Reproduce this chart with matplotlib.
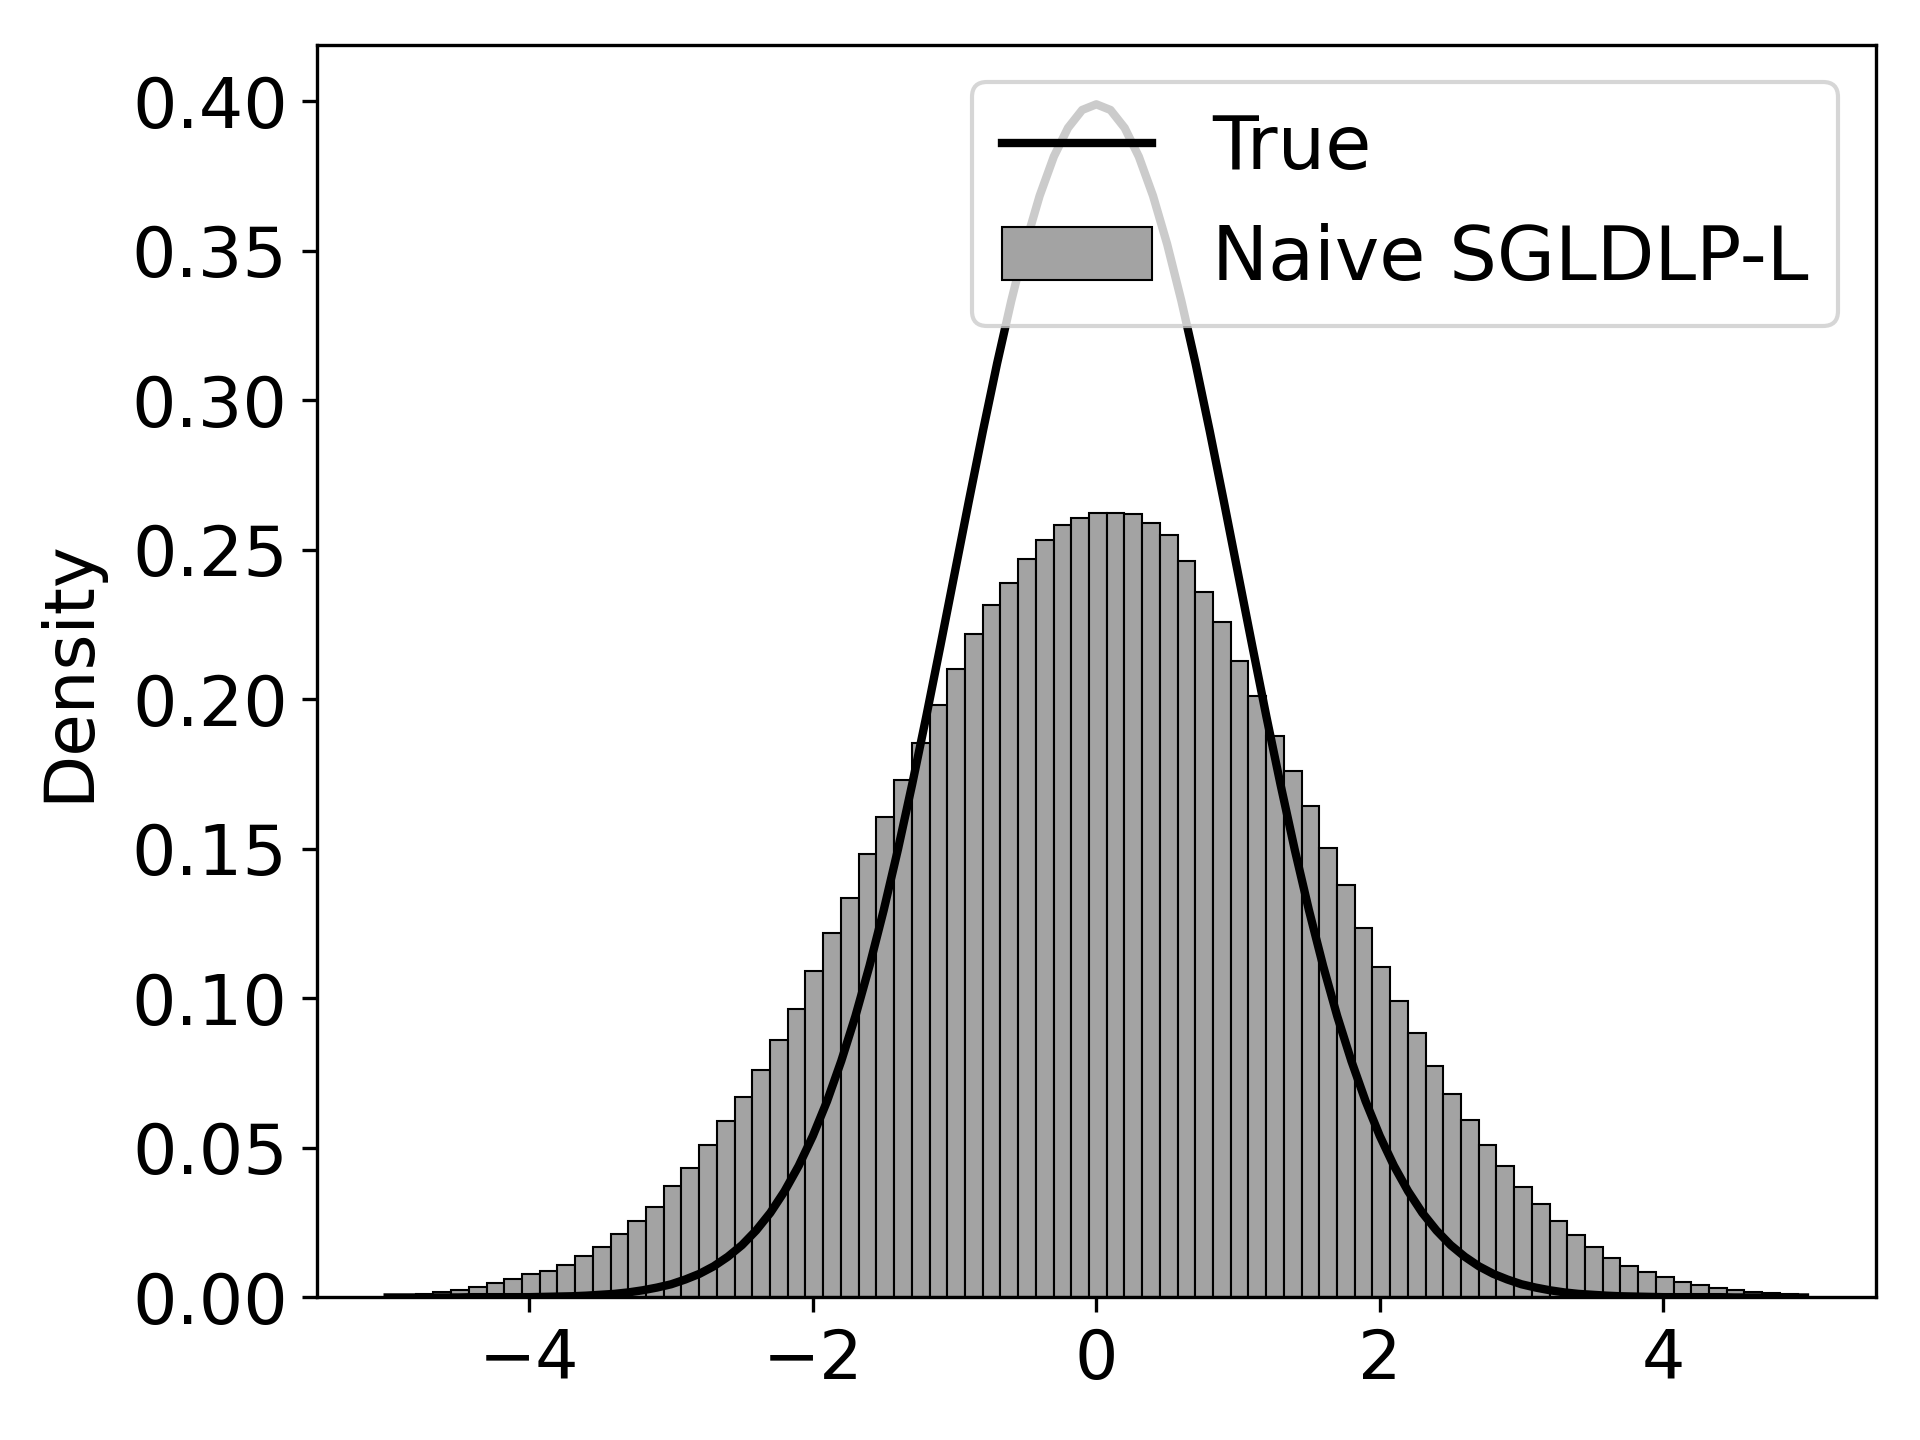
# Histograma de muestras vs densidad verdadera
import numpy as np
import matplotlib
matplotlib.use("Agg")
import matplotlib.pyplot as plt

# Histograma (densidad): 79 clases de ancho 0.125
bin_left = -4.927
bin_width = 0.125
hist_density = [
    0.0006, 0.0010, 0.0019, 0.0026, 0.0036, 0.0047, 0.0060, 0.0078, 0.0088, 0.0107,
    0.0137, 0.0169, 0.0213, 0.0256, 0.0304, 0.0372, 0.0432, 0.0508, 0.0589, 0.0669,
    0.0759, 0.0861, 0.0964, 0.1090, 0.1220, 0.1337, 0.1481, 0.1605, 0.1731, 0.1854,
    0.1982, 0.2101, 0.2219, 0.2316, 0.2390, 0.2468, 0.2533, 0.2583, 0.2606, 0.2622,
    0.2621, 0.2620, 0.2590, 0.2549, 0.2461, 0.2359, 0.2258, 0.2129, 0.2011, 0.1877,
    0.1761, 0.1642, 0.1502, 0.1379, 0.1234, 0.1106, 0.0992, 0.0885, 0.0774, 0.0679,
    0.0594, 0.0508, 0.0441, 0.0370, 0.0313, 0.0257, 0.0209, 0.0168, 0.0131, 0.0105,
    0.0085, 0.0067, 0.0052, 0.0040, 0.0033, 0.0024, 0.0019, 0.0014, 0.0010,
]

# Curva "True", x de -5 a 5 cada 0.1
curve_x = np.linspace(-5, 5, 101)
curve_y = [
    0.0000, 0.0000, 0.0000, 0.0000, 0.0000, 0.0000, 0.0001, 0.0001, 0.0001, 0.0001,
    0.0001, 0.0002, 0.0003, 0.0004, 0.0006, 0.0009, 0.0012, 0.0017, 0.0024, 0.0033,
    0.0044, 0.0060, 0.0079, 0.0104, 0.0136, 0.0175, 0.0224, 0.0283, 0.0355, 0.0440,
    0.0540, 0.0656, 0.0790, 0.0940, 0.1109, 0.1295, 0.1497, 0.1714, 0.1942, 0.2179,
    0.2420, 0.2661, 0.2897, 0.3123, 0.3332, 0.3521, 0.3683, 0.3814, 0.3910, 0.3970,
    0.3989,
    0.3970, 0.3910, 0.3814, 0.3683, 0.3521, 0.3332, 0.3123, 0.2897, 0.2661, 0.2420,
    0.2179, 0.1942, 0.1714, 0.1497, 0.1295, 0.1109, 0.0940, 0.0790, 0.0656, 0.0540,
    0.0440, 0.0355, 0.0283, 0.0224, 0.0175, 0.0136, 0.0104, 0.0079, 0.0060, 0.0044,
    0.0033, 0.0024, 0.0017, 0.0012, 0.0009, 0.0006, 0.0004, 0.0003, 0.0002, 0.0001,
    0.0001, 0.0001, 0.0001, 0.0001, 0.0000, 0.0000, 0.0000, 0.0000, 0.0000, 0.0000,
]

edges = bin_left + bin_width * np.arange(len(hist_density) + 1)

fig, ax = plt.subplots(figsize=(6.4, 4.8), dpi=300)
fig.subplots_adjust(left=0.165, right=0.977, top=0.969, bottom=0.099)

ax.plot(curve_x, curve_y, color="black", lw=2, label="True")
ax.hist(edges[:-1], bins=edges, weights=hist_density, color="#a3a3a3",
        edgecolor="black", linewidth=0.5, label="Naive SGLDLP-L")

ax.set_ylabel("Density", fontsize=16.6, labelpad=7)
ax.tick_params(axis="y", labelsize=16.8)
ax.tick_params(axis="x", labelsize=16.4)
ax.set_yticks([0.0, 0.05, 0.10, 0.15, 0.20, 0.25, 0.30, 0.35, 0.40])
ax.set_xticks([-4, -2, 0, 2, 4])
ax.legend(loc="upper right", fontsize=18)

fig.savefig("out.png", dpi=300)
